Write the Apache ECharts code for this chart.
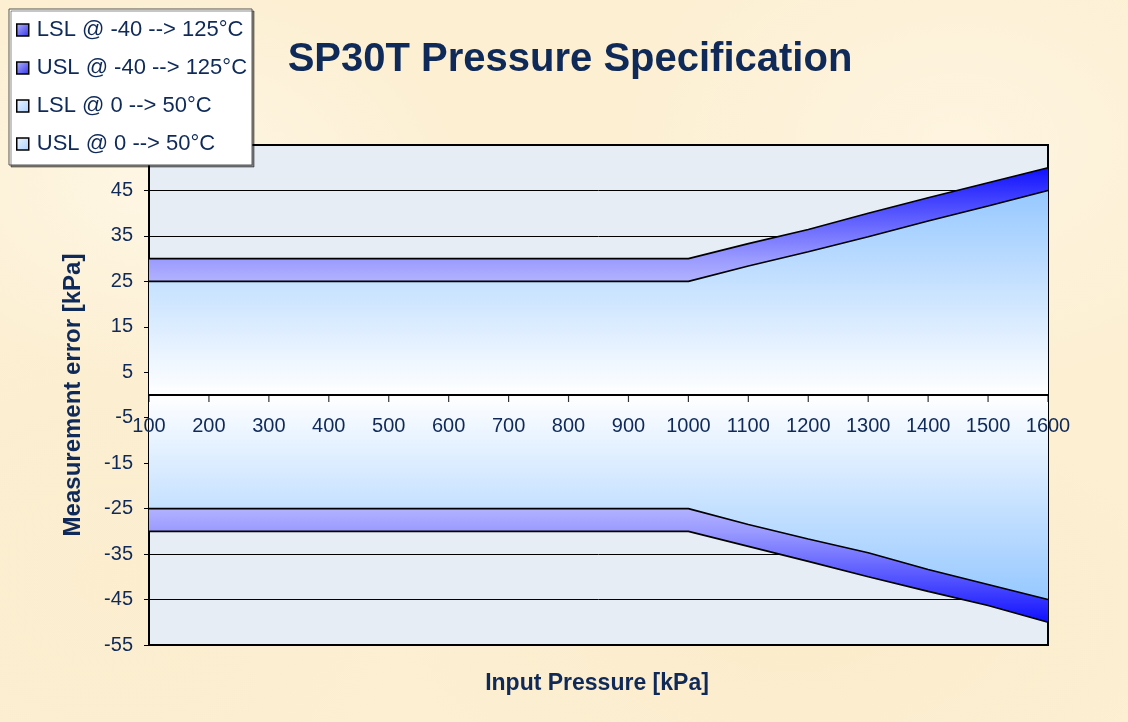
<!DOCTYPE html>
<html>
<head>
<meta charset="utf-8">
<title>SP30T Pressure Specification</title>
<script src="https://cdn.jsdelivr.net/npm/echarts@6/dist/echarts.min.js"></script>
<style>
  html, body { margin: 0; padding: 0; }
  #wrap {
    width: 1128px; height: 722px; position: relative;
    background-color: #fcefd2;
    background-image:
      radial-gradient(ellipse 300px 200px at 15% 25%, rgba(255, 249, 234, 0.8), transparent),
      radial-gradient(ellipse 350px 250px at 85% 20%, rgba(255, 247, 230, 0.7), transparent),
      radial-gradient(ellipse 400px 220px at 70% 85%, rgba(250, 232, 196, 0.5), transparent),
      radial-gradient(ellipse 300px 260px at 10% 80%, rgba(251, 236, 204, 0.6), transparent),
      radial-gradient(ellipse 260px 160px at 50% 50%, rgba(255, 248, 232, 0.6), transparent);
  }
  #chart { position: absolute; left: 0; top: 0; width: 1128px; height: 722px; }
</style>
</head>
<body>
<div id="wrap"><div id="chart"></div></div>
<script>
var pressure = [100, 200, 300, 400, 500, 600, 700, 800, 900, 1000, 1100, 1200, 1300, 1400, 1500, 1600];

// -40 --> 125°C limits
var usl_wide = [30, 30, 30, 30, 30, 30, 30, 30, 30, 30, 33.3, 36.4, 40, 43.4, 46.7, 50];
var lsl_wide = [-30, -30, -30, -30, -30, -30, -30, -30, -30, -30, -33.3, -36.6, -40, -43.2, -46.3, -50];

// 0 --> 50°C limits
var usl_narrow = [25, 25, 25, 25, 25, 25, 25, 25, 25, 25, 28.4, 31.5, 34.8, 38.3, 41.6, 45];
var lsl_narrow = [-25, -25, -25, -25, -25, -25, -25, -25, -25, -25, -28.5, -31.7, -34.7, -38.4, -41.7, -45];

var names = ['LSL @ -40 --> 125°C', 'USL @ -40 --> 125°C', 'LSL @ 0 --> 50°C', 'USL @ 0 --> 50°C'];

var navy = '#0f2a58';
var font = 'Liberation Sans, Arial, sans-serif';

function pairs(ys) {
  return pressure.map(function (x, i) { return [x, ys[i]]; });
}

// gradients, top -> bottom of each area's box
var purpleUp = new echarts.graphic.LinearGradient(0, 0, 0, 1, [
  { offset: 0, color: '#1010ff' },
  { offset: 0.2, color: '#5656ff' },
  { offset: 0.4, color: '#9a9aff' },
  { offset: 0.5, color: '#b2b2ff' },
  { offset: 1, color: '#ffffff' }
]);
var purpleDown = new echarts.graphic.LinearGradient(0, 0, 0, 1, [
  { offset: 0, color: '#ffffff' },
  { offset: 0.5, color: '#b2b2ff' },
  { offset: 0.6, color: '#9a9aff' },
  { offset: 0.8, color: '#5656ff' },
  { offset: 1, color: '#1010ff' }
]);
var blueUp = new echarts.graphic.LinearGradient(0, 0, 0, 1, [
  { offset: 0, color: '#96c8ff' },
  { offset: 1, color: '#ffffff' }
]);
var blueDown = new echarts.graphic.LinearGradient(0, 0, 0, 1, [
  { offset: 0, color: '#ffffff' },
  { offset: 1, color: '#96c8ff' }
]);
var purpleIcon = new echarts.graphic.LinearGradient(0, 0, 1, 1, [
  { offset: 0, color: '#b8b8ff' },
  { offset: 1, color: '#3030e8' }
]);
var blueIcon = new echarts.graphic.LinearGradient(0, 0, 1, 1, [
  { offset: 0, color: '#eef6ff' },
  { offset: 1, color: '#a8d0ff' }
]);

function areaSeries(name, ys, fill, col) {
  return {
    name: name,
    type: 'line',
    data: pairs(ys),
    showSymbol: false,
    symbol: 'none',
    color: col,
    lineStyle: { color: '#000', width: 1.6 },
    areaStyle: { color: fill, opacity: 1 },
    emphasis: { disabled: true }
  };
}

var myChart = echarts.init(document.getElementById('chart'));

var option = {
  backgroundColor: 'transparent',
  animation: false,
  title: [
    {
      text: 'SP30T Pressure Specification',
      left: 570, top: 40, padding: 0,
      textAlign: 'center',
      textStyle: { fontFamily: font, fontSize: 40, fontWeight: 'bold', color: navy }
    },
    {
      text: 'Input Pressure [kPa]',
      left: 597, top: 672, padding: 0,
      textAlign: 'center',
      textStyle: { fontFamily: font, fontSize: 23, fontWeight: 'bold', color: navy }
    }
  ],
  legend: {
    orient: 'vertical',
    left: 9, top: 9,
    padding: [10, 5, 10, 7],
    itemGap: 16,
    itemWidth: 12, itemHeight: 12,
    icon: 'rect',
    backgroundColor: '#ffffff',
    borderColor: '#555',
    borderWidth: 1,
    shadowColor: 'rgba(0,0,0,0.45)',
    shadowOffsetX: 2, shadowOffsetY: 2, shadowBlur: 0,
    textStyle: { fontFamily: font, fontSize: 22, color: navy, lineHeight: 22, padding: [0, 0, 0, 3] },
    data: [
      { name: names[0], itemStyle: { color: purpleIcon, borderColor: '#000', borderWidth: 1.5 } },
      { name: names[1], itemStyle: { color: purpleIcon, borderColor: '#000', borderWidth: 1.5 } },
      { name: names[2], itemStyle: { color: blueIcon, borderColor: '#000', borderWidth: 1.5 } },
      { name: names[3], itemStyle: { color: blueIcon, borderColor: '#000', borderWidth: 1.5 } }
    ],
    selectedMode: false
  },
  grid: {
    left: 149, top: 145, right: 80, bottom: 77,
    show: true,
    backgroundColor: '#e6edf5',
    borderColor: '#000',
    borderWidth: 2
  },
  xAxis: {
    // labels sit just under the zero line, half way up the 500px plot
    type: 'value',
    min: 100, max: 1600, interval: 100,
    position: 'bottom',
    offset: -250,
    z: 10,
    axisLine: { show: false, onZero: false },
    axisTick: { show: false },
    axisLabel: {
      fontFamily: font, fontSize: 20, color: navy, margin: 21,
      formatter: function (v) { return String(v); }
    },
    splitLine: { show: false }
  },
  yAxis: {
    type: 'value',
    min: -55, max: 55, interval: 10,
    name: 'Measurement error [kPa]',
    nameLocation: 'middle',
    nameRotate: 90,
    nameGap: 64,
    nameTextStyle: { fontFamily: font, fontSize: 24, fontWeight: 'bold', color: navy },
    axisLine: { show: true, lineStyle: { color: '#000', width: 2 } },
    axisTick: { show: true, length: 5, lineStyle: { color: '#000', width: 1 } },
    axisLabel: { fontFamily: font, fontSize: 20, color: navy, margin: 16 },
    splitLine: { show: true, lineStyle: { color: '#000', width: 1 } }
  },
  series: [
    areaSeries(names[0], lsl_wide, purpleDown, '#6a6aff'),
    areaSeries(names[1], usl_wide, purpleUp, '#6a6aff'),
    areaSeries(names[2], lsl_narrow, blueDown, '#b8dcff'),
    areaSeries(names[3], usl_narrow, blueUp, '#b8dcff'),
    {
      // the x axis line on zero
      name: 'zero',
      type: 'line',
      data: pressure.map(function (x) { return [x, 0]; }),
      showSymbol: false,
      symbol: 'none',
      lineStyle: { color: '#000', width: 2 },
      silent: true,
      z: 6
    },
    {
      // tick marks hanging below the zero line
      name: 'ticks',
      type: 'scatter',
      data: pressure.map(function (x) { return [x, 0]; }),
      symbol: 'rect',
      symbolSize: [1.2, 7],
      symbolOffset: [0, 3.5],
      itemStyle: { color: '#000' },
      silent: true,
      z: 6
    }
  ]
};

myChart.setOption(option);
</script>
</body>
</html>
